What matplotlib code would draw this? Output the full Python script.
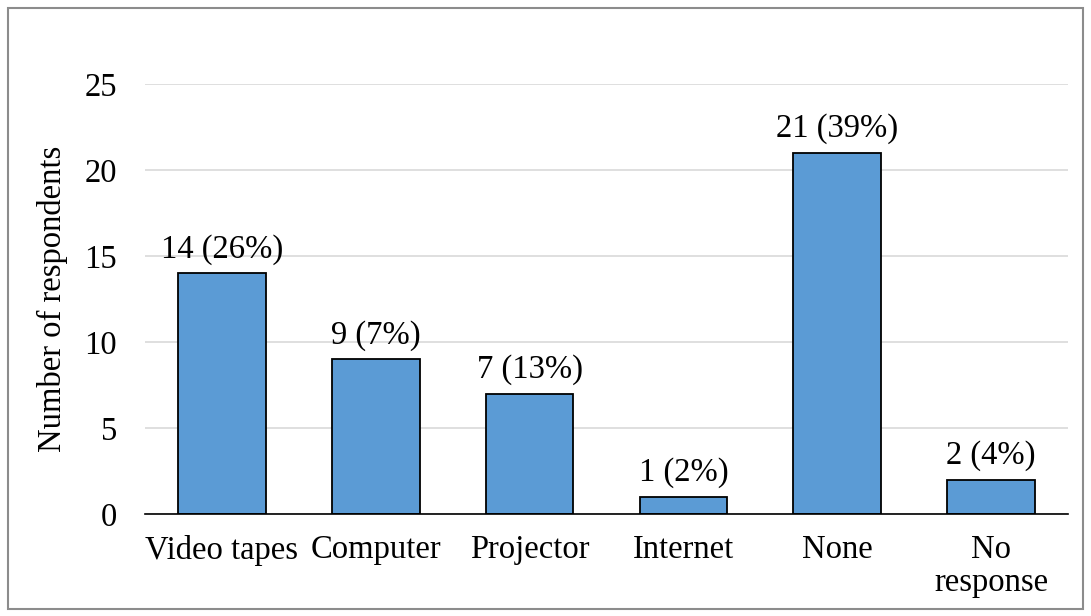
import matplotlib.pyplot as plt
from matplotlib.patches import Rectangle

plt.rcParams['font.family'] = ['Liberation Serif', 'DejaVu Serif']

categories = ['Video tapes', 'Computer', 'Projector', 'Internet', 'None', 'No\nresponse']
counts = [14, 9, 7, 1, 21, 2]
percents = [26, 7, 13, 2, 39, 4]

FS = 23.5

fig = plt.figure(figsize=(10.91, 6.16), dpi=100)
ax = fig.add_axes([0.1329, 0.1656, 0.846, 0.698])

x = range(len(categories))
bars = ax.bar(x, counts, width=0.57, color='#5B9BD5', edgecolor='black', linewidth=1.3, zorder=3)

for b, c, p in zip(bars, counts, percents):
    ax.annotate('%d (%d%%)' % (c, p), (b.get_x() + b.get_width() / 2, b.get_height()),
                xytext=(0, 6), textcoords='offset points', ha='center', va='bottom', fontsize=FS)

ax.set_xlim(-0.5, len(categories) - 0.5)
ax.set_ylim(0, 25)
ax.set_yticks([0, 5, 10, 15, 20, 25])
ax.yaxis.grid(True, color='#d9d9d9', linewidth=1.2, zorder=0)
ax.set_xticks(list(x))
ax.set_xticklabels(categories, fontsize=FS, linespacing=1.1)
ax.tick_params(axis='y', length=0, pad=20, labelsize=FS)
ax.tick_params(axis='x', length=0, pad=15)
for s in ['top', 'right', 'left']:
    ax.spines[s].set_visible(False)
ax.spines['bottom'].set_color('black')
ax.spines['bottom'].set_linewidth(1.2)
ax.spines['bottom'].set_zorder(4)
ax.set_ylabel('Number of respondents', fontsize=FS, labelpad=12)

fig.patches.append(Rectangle((0.007, 0.012), 0.986, 0.975, transform=fig.transFigure,
                             fill=False, edgecolor='#8c8c8c', linewidth=1.5))

fig.savefig('out.png', dpi=100)
